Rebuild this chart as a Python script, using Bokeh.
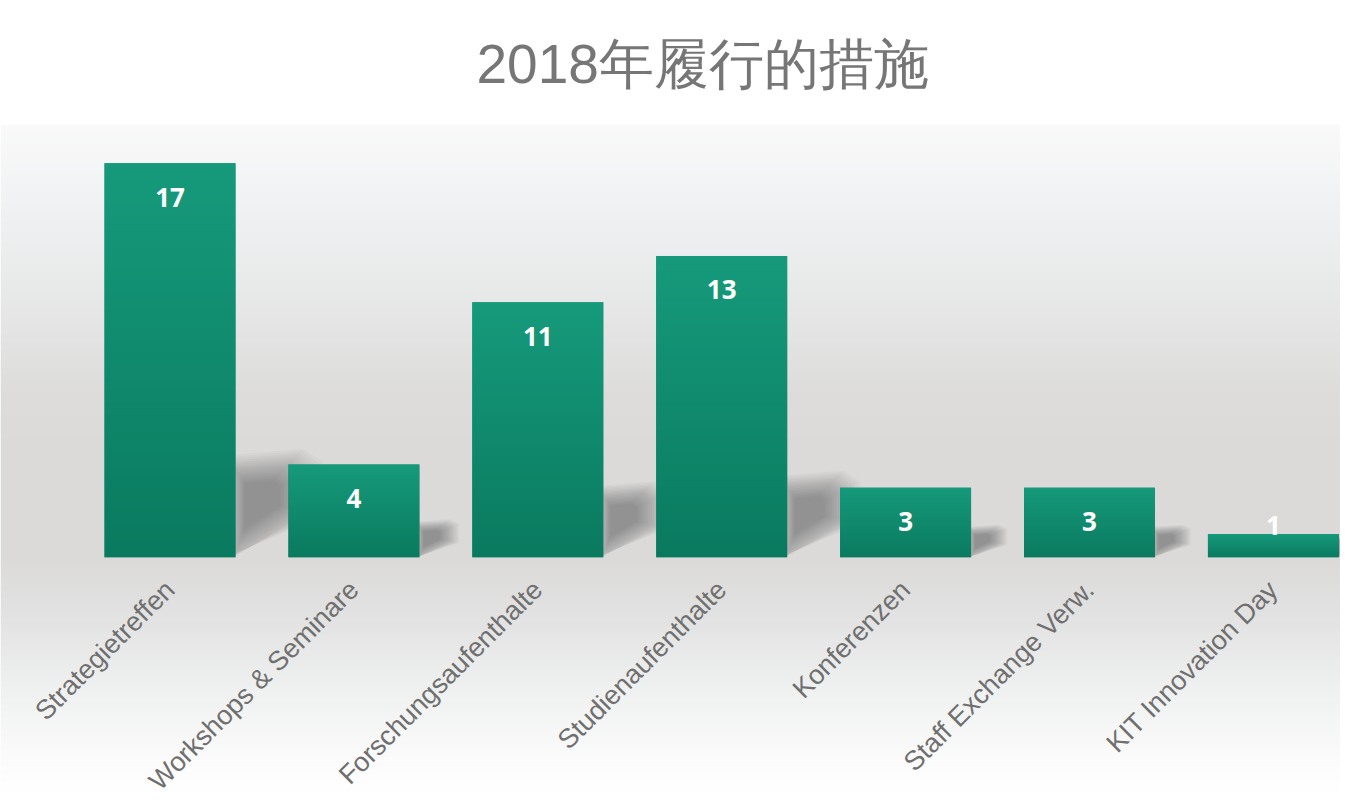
import numpy as np
from bokeh.plotting import figure
from bokeh.models import Range1d, LinearAxis, FixedTicker
from bokeh.core.properties import value
from bokeh.embed import file_html
from bokeh.resources import INLINE

# ---------------- data ----------------
categories = ["Strategietreffen", "Workshops & Seminare", "Forschungsaufenthalte",
              "Studienaufenthalte", "Konferenzen", "Staff Exchange Verw.", "KIT Innovation Day"]
counts = [17, 4, 11, 13, 3, 3, 1]
title_text = "2018年履行的措施"

# ---------------- geometry / style ----------------
W, H = 1340, 800
TITLE_PAD = 25
TITLE_H = 72 + 2 * TITLE_PAD
PX_PER_UNIT = 23.24
BASE_PAGE_Y = 556
CAT_PX = 183.9
FIRST_CENTER_PAGE_X = 169.5
BAR_W = 0.712

frame_top = TITLE_H
frame_bottom = H
y_end = (BASE_PAGE_Y - frame_top) / PX_PER_UNIT
y_start = -(frame_bottom - BASE_PAGE_Y) / PX_PER_UNIT
x_start = -FIRST_CENTER_PAGE_X / CAT_PX
x_end = (W - FIRST_CENTER_PAGE_X) / CAT_PX

p = figure(width=W, height=H, x_range=Range1d(x_start, x_end), y_range=Range1d(y_start, y_end),
           output_backend="svg", toolbar_location=None, x_axis_type=None, y_axis_type=None,
           min_border=0, title=title_text, border_fill_color="white", outline_line_color=None)
p.title.text_font_size = "55px"
p.title.text_font = "Liberation Sans"
p.title.text_font_style = "normal"
p.title.text_color = "#767676"
p.title.align = "left"
p.title.padding = TITLE_PAD
p.title.offset = 476 - TITLE_PAD

# background vertical gradient (page-y stops -> colours)
stops_py = [110, 190, 290, 390, 460, 560, 625, 690, 757, 790]
stops_hex = ["#fbfbfb", "#f2f3f4", "#e8e9e9", "#dedddc", "#dbdad9", "#dcdbda",
             "#e4e4e4", "#f0f1f1", "#fbfbfb", "#ffffff"]
rows = 400
ys = np.linspace(y_start, y_end, rows)
pys = BASE_PAGE_Y - ys * PX_PER_UNIT
rgb = np.array([[int(h[i:i + 2], 16) for i in (1, 3, 5)] for h in stops_hex], dtype=float)
img = np.empty((rows, 1), dtype=np.uint32)
view = img.view(dtype=np.uint8).reshape((rows, 1, 4))
for c in range(3):
    view[:, 0, c] = np.interp(pys, stops_py, rgb[:, c]).astype(np.uint8)
view[:, 0, 3] = 255
p.image_rgba(image=[img], x=x_start, y=y_start, dw=x_end - x_start, dh=y_end - y_start)

# soft shadows to the right of each bar (layered, shrinking toward the core)
idx = np.arange(len(categories))
vals = np.array(counts, dtype=float)
LAYERS = 16
for k in range(LAYERS):
    s = 1.45 - 0.06 * k
    xs, ysh = [], []
    for i, v in zip(idx, vals):
        hs = 0.6 + 0.2 * v
        dx = 0.06 + 0.075 * hs
        xr = i + BAR_W / 2
        vx = np.array([xr, xr, xr + dx * 0.8, xr + dx, xr + dx])
        vy = np.array([0.05 * hs, 0.95 * hs, hs, 0.9 * hs, 0.5 * hs])
        cx, cy = xr + dx * 0.3, 0.62 * hs
        px = cx + s * (vx - cx)
        py = np.maximum(cy + s * (vy - cy), 0.0)
        xs.append(list(px))
        ysh.append(list(py))
    p.patches(xs, ysh, fill_color="#2e2e2e", fill_alpha=0.026, line_color=None)

# bars: solid base plus a vertical gradient image stretched over each bar
top_rgb = np.array([0x16, 0x9a, 0x7b], dtype=float)
bot_rgb = np.array([0x0a, 0x7a, 0x5f], dtype=float)
mid_hex = "#%02x%02x%02x" % tuple(int(round(x)) for x in (top_rgb + bot_rgb) / 2)
p.vbar(x=idx, top=counts, width=BAR_W, bottom=0, fill_color=mid_hex, line_color=None)
g_rows = 64
grad = np.empty((g_rows, 1), dtype=np.uint32)
gv = grad.view(dtype=np.uint8).reshape((g_rows, 1, 4))
tt = np.linspace(0, 1, g_rows)
for c in range(3):
    gv[:, 0, c] = np.round(bot_rgb[c] + (top_rgb[c] - bot_rgb[c]) * tt).astype(np.uint8)
gv[:, 0, 3] = 255
p.image_rgba(image=[grad] * len(counts), x=list(idx - BAR_W / 2), y=[0] * len(counts),
             dw=[BAR_W] * len(counts), dh=counts)

# value labels
offsets = [34 if v >= 2 else -9 for v in counts]
p.text(x=idx, y=counts, text=[str(c) for c in counts], y_offset=offsets,
       text_align="center", text_baseline="middle", text_color="white",
       text_font=value("Open Sans"), text_font_style="bold", text_font_size="26px")

# category axis at y = 0
ax = LinearAxis(fixed_location=0, ticker=FixedTicker(ticks=list(range(len(categories)))),
                major_label_overrides={i: c for i, c in enumerate(categories)})
ax.major_label_orientation = np.pi / 4
ax.axis_line_color = None
ax.major_tick_line_color = None
ax.minor_tick_line_color = None
ax.major_tick_out = 0
ax.major_tick_in = 0
ax.major_label_standoff = 28
ax.major_label_text_font = "Liberation Sans"
ax.major_label_text_font_size = "27px"
ax.major_label_text_color = "#6f6f6f"
p.add_layout(ax, "below")

open("out.html", "w").write(file_html(p, INLINE))
